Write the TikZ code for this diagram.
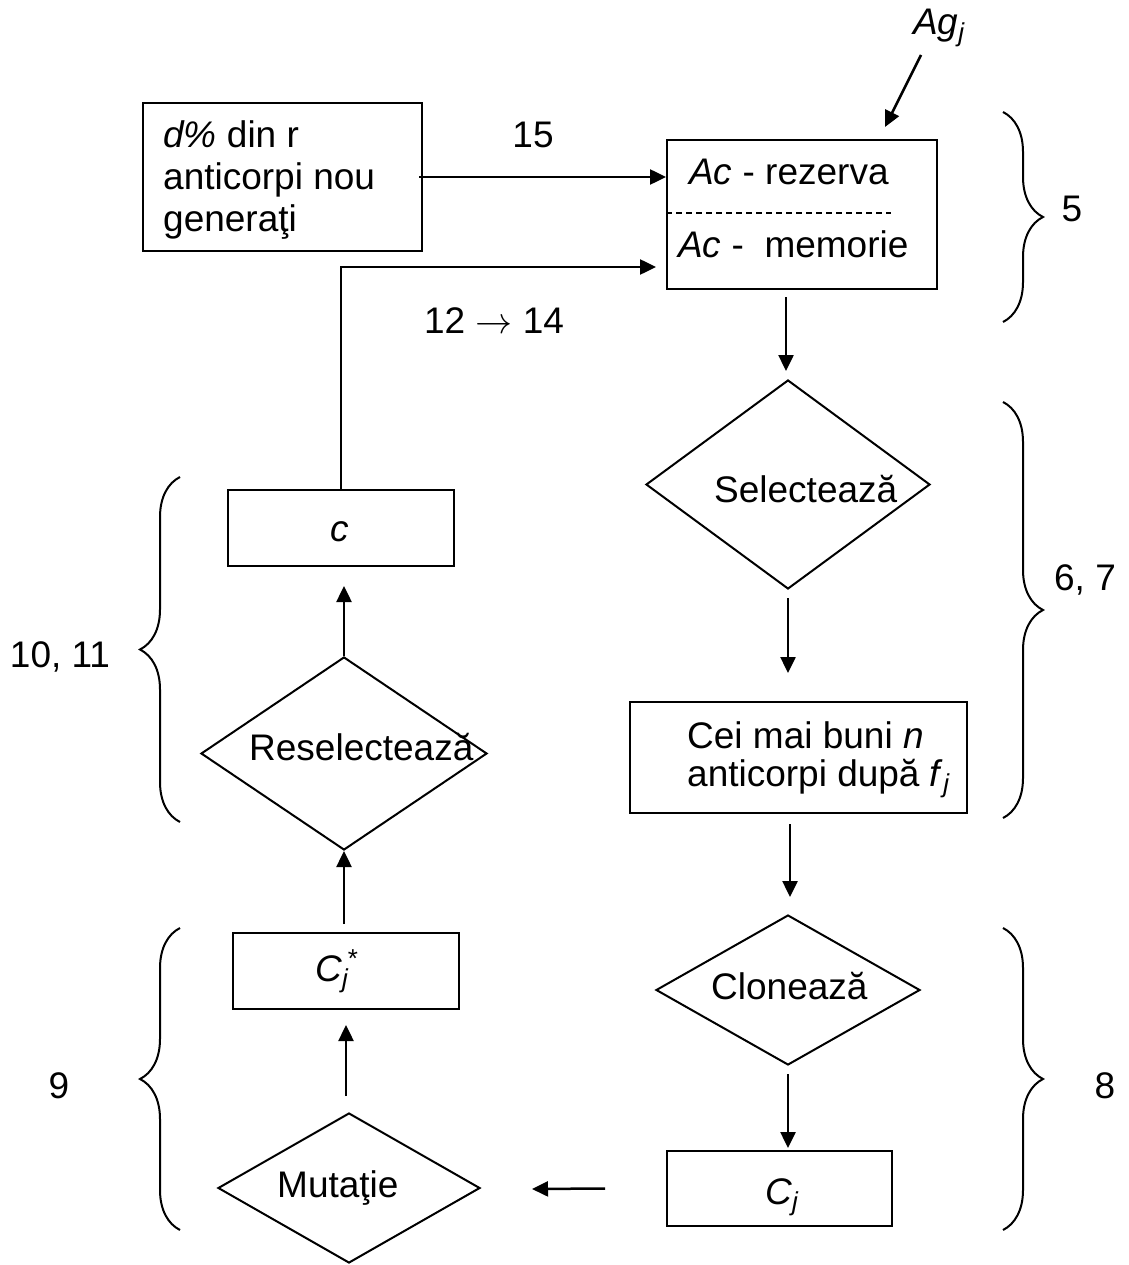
\RequirePackage{fix-cm}
\documentclass[tikz,border=0pt]{standalone}
\usepackage{fontspec}
\setmainfont{Liberation Sans}
\usetikzlibrary{arrows.meta,decorations.pathreplacing,calc,shapes.geometric}
\begin{document}
\begin{tikzpicture}[x=1pt,y=-1pt,
  every node/.style={font=\fontsize{37}{42}\selectfont, inner sep=0pt},
  box/.style={draw, line width=2pt, rectangle},
  dmd/.style={draw, line width=2pt, diamond},
  arr/.style={line width=2.5pt, -{Triangle[length=16pt,width=15pt]}},
  brc/.style={decorate, decoration={brace, amplitude=40pt}, line width=2pt},
  txt/.style={anchor=base west},
  lbl/.style={anchor=base}
]
\useasboundingbox (0,0) rectangle (1128,1265);

% boxes
\node[box, minimum width=279pt, minimum height=148pt] (b1) at (282.5,177) {};
\node[box, minimum width=270pt, minimum height=149pt] (ac) at (802,214.5) {};
\node[box, minimum width=337pt, minimum height=111pt] (cei) at (798.5,757.5) {};
\node[box, minimum width=225pt, minimum height=75pt] (cj) at (779.5,1188.5) {};
\node[box, minimum width=226pt, minimum height=76pt] (cjs) at (346,971) {};
\node[box, minimum width=226pt, minimum height=76pt] (c) at (341,528) {};

% diamonds
\node[dmd, minimum width=284pt, minimum height=209pt] (sel) at (788,484.5) {};
\node[dmd, minimum width=264pt, minimum height=150pt] (clo) at (788,990) {};
\node[dmd, minimum width=262pt, minimum height=150pt] (mut) at (349,1188) {};
\node[dmd, minimum width=286pt, minimum height=193pt] (res) at (344,753.5) {};

% dashed separator
\draw[line width=1.4pt, dash pattern=on 6pt off 4pt] ($(ac.west)+(0,-1.5)$) -- ($(ac.west)+(225,-1.5)$);

% texts
\node[txt] (t1) at (163,148) {\vtop{\hbox{\textit{d\%} din r}\hbox{anticorpi nou}\hbox{generaţi}}};
\node[txt] (tr) at (689,185) {\textit{Ac} - rezerva};
\node[txt] (tm) at (678,258) {\textit{Ac} -\ \ memorie};
\node[txt] (tsel) at (714,502) {Selectează};
\node[txt] (tcei) at (687,748) {\fontsize{37}{38}\selectfont\vtop{\hbox{Cei mai buni \textit{n}}\hbox{anticorpi după \textit{f}\textsubscript{\textit{j}}}}};
\node[txt] (tclo) at (711,999) {Clonează};
\node[txt] (tcj) at (765,1204) {\textit{C}\textsubscript{\textit{j}}};
\node[txt] (tmut) at (277,1197) {Mutaţie};
\node[txt] (tcjs) at (315,981) {\textit{C}\textsubscript{\textit{j}}\kern-1pt\textsuperscript{*}};
\node[txt] (tres) at (249,760) {Reselectează};
\node[lbl] (tc) at (340,541) {\textit{c}};
\node[txt] (agj) at (913,35) {\textit{Ag}\textsubscript{\textit{j}}};

% labels
\node[lbl] (l15) at (533,148) {15};
\node[lbl] (l1214) at (494,333) {12 $\rightarrow$ 14};
\node[lbl] (l5) at (1072,222) {5};
\node[lbl] (l67) at (1085,590) {6, 7};
\node[lbl] (l8) at (1105,1098) {8};
\node[lbl] (l1011) at (60,667) {10, 11};
\node[lbl] (l9) at (59,1098) {9};

% connectors
\coordinate (agstart) at (921,55);
\draw[arr] (agstart) -- ($(ac.north)+(83,-12)$);
\draw[arr] ($(b1.east)+(-4,0)$) -- (b1.east -| ac.west);
\draw[arr] (c.north) |- ($(ac.west)+(-10,52.5)$);
\draw[arr] ($(sel.north)+(-2,-82)$) -- ($(sel.north)+(-2,-8)$);
\draw[arr] ($(sel.south)+(0,8)$) -- ($(sel.south)+(0,83)$);
\draw[arr] ($(clo.north)+(2,-90)$) -- ($(clo.north)+(2,-17)$);
\draw[arr] ($(clo.south)+(0,8)$) -- ($(clo.south)+(0,82)$);
\draw[arr] ($(cj.west)+(-61,0)$) -- ($(mut.east)+(51,1)$);
\draw[arr] ($(mut.north)+(-3,-16)$) -- ($(cjs.south)+(0,15)$);
\draw[arr] ($(res.south|-cjs.north)+(0,-8)$) -- (res.south);
\draw[arr] (res.north) -- ($(res.north|-c.south)+(0,19)$);

% braces
\draw[brc] (1003,112) -- (1003,322);
\draw[brc] (1003,402) -- (1003,818);
\draw[brc] (1003,928) -- (1003,1230);
\draw[brc] (180,822) -- (180,477);
\draw[brc] (180,1230) -- (180,928);
\end{tikzpicture}
\end{document}
